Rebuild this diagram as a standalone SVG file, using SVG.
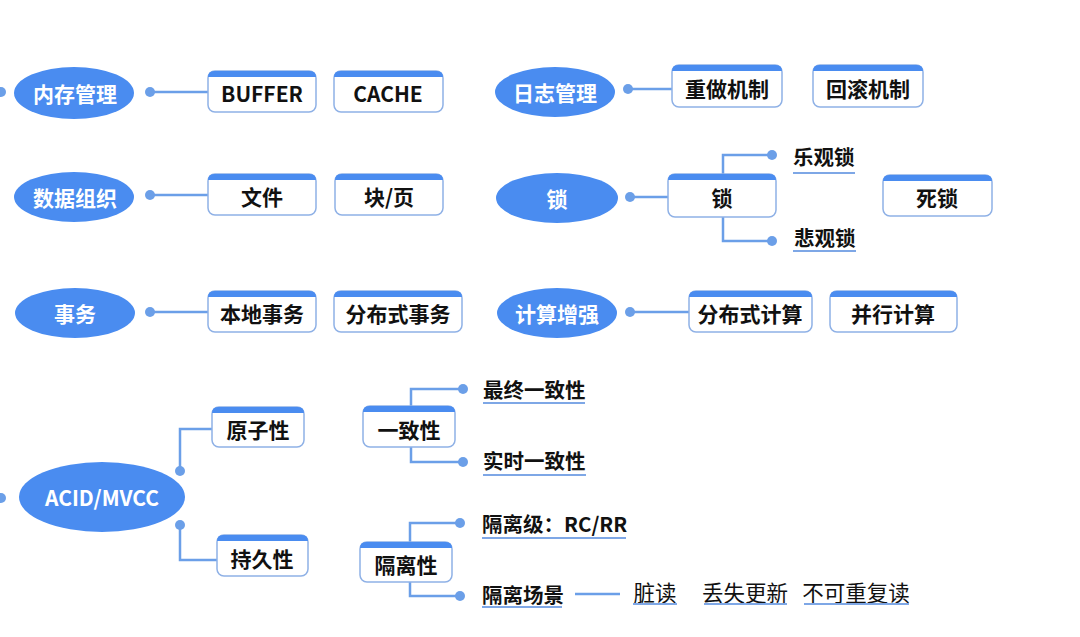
<svg xmlns="http://www.w3.org/2000/svg" width="1080" height="637" viewBox="0 0 1080 637">
<style>
.ell{fill:#4a8cf0}
.et{fill:#fff;font-family:"Noto Sans CJK SC","Noto Sans",sans-serif;font-weight:700;font-size:21px;text-anchor:middle;dominant-baseline:central}
.box{fill:#fff;stroke:#8fb1e6;stroke-width:1.5}
.band{fill:#4a8cf0}
.bt{fill:#111;font-family:"Noto Sans CJK SC","Noto Sans",sans-serif;font-weight:700;font-size:21px;text-anchor:middle;dominant-baseline:central}
.lt{fill:#111;font-family:"Noto Sans CJK SC","Noto Sans",sans-serif;font-weight:700;font-size:20.5px;dominant-baseline:central}
.rt{fill:#111;font-family:"Noto Sans CJK SC","Noto Sans",sans-serif;font-weight:400;font-size:21.5px;text-anchor:middle;dominant-baseline:central}
.cn{fill:none;stroke:#6b9fe8;stroke-width:2.5}
.dot{fill:#6b9fe8}
.ul{stroke:#7ea7e6;stroke-width:2}
</style>
<rect width="1080" height="637" fill="#fff"/>
<g id="connectors">
<path class="cn" d="M150 92H208 M150 195H208 M150 312H208 M628 89H672 M630 197H668 M630 312H689"/>
<path class="cn" d="M723 174V155H772 M723 217V241H772"/>
<path class="cn" d="M180 471V429H212 M180 525V560H217"/>
<path class="cn" d="M411 406V389H463 M411 447V462H463"/>
<path class="cn" d="M410 542V523H460 M410 582V596H460"/>
<path class="cn" d="M575 594H620"/>
<circle class="dot" cx="150" cy="92" r="5"/>
<circle class="dot" cx="150" cy="195" r="5"/>
<circle class="dot" cx="150" cy="312" r="5"/>
<circle class="dot" cx="628" cy="89" r="5"/>
<circle class="dot" cx="630" cy="197" r="5"/>
<circle class="dot" cx="630" cy="312" r="5"/>
<circle class="dot" cx="772" cy="155" r="5"/>
<circle class="dot" cx="772" cy="241" r="5"/>
<circle class="dot" cx="180" cy="471" r="5"/>
<circle class="dot" cx="180" cy="525" r="5"/>
<circle class="dot" cx="463" cy="389" r="5"/>
<circle class="dot" cx="463" cy="462" r="5"/>
<circle class="dot" cx="460" cy="523" r="5"/>
<circle class="dot" cx="460" cy="596" r="5"/>
<circle class="dot" cx="1" cy="92" r="5"/>
<circle class="dot" cx="1" cy="498" r="5"/>
</g>
<g id="n-neicun"><ellipse class="ell" cx="74" cy="93" rx="60" ry="26"/><text class="et" x="75" y="93">内存管理</text></g>
<g id="n-shuju"><ellipse class="ell" cx="74" cy="197" rx="60" ry="25"/><text class="et" x="75" y="197">数据组织</text></g>
<g id="n-shiwu"><ellipse class="ell" cx="75" cy="313" rx="60" ry="25"/><text class="et" x="75" y="313">事务</text></g>
<g id="n-rizhi"><ellipse class="ell" cx="555" cy="92" rx="60" ry="25"/><text class="et" x="555" y="92">日志管理</text></g>
<g id="n-suo"><ellipse class="ell" cx="557" cy="198" rx="61" ry="25"/><text class="et" x="557" y="198">锁</text></g>
<g id="n-jisuan"><ellipse class="ell" cx="557" cy="313" rx="60" ry="25"/><text class="et" x="557" y="313">计算增强</text></g>
<g id="n-acid"><ellipse class="ell" cx="102" cy="497" rx="83" ry="35"/><text class="et" x="102" y="497">ACID/MVCC</text></g>

<g id="b-buffer"><rect class="box" x="208" y="71" width="108" height="41" rx="7"/><path class="band" d="M208 77Q208 71 214 71H310Q316 71 316 77Z"/><text class="bt" x="262" y="93">BUFFER</text></g>
<g id="b-cache"><rect class="box" x="334" y="71" width="109" height="41" rx="7"/><path class="band" d="M334 77Q334 71 340 71H437Q443 71 443 77Z"/><text class="bt" x="388" y="93">CACHE</text></g>
<g id="b-chongzuo"><rect class="box" x="672" y="65" width="110" height="42" rx="7"/><path class="band" d="M672 71Q672 65 678 65H776Q782 65 782 71Z"/><text class="bt" x="727" y="88">重做机制</text></g>
<g id="b-huigun"><rect class="box" x="813" y="65" width="110" height="42" rx="7"/><path class="band" d="M813 71Q813 65 819 65H917Q923 65 923 71Z"/><text class="bt" x="868" y="88">回滚机制</text></g>
<g id="b-wenjian"><rect class="box" x="208" y="174" width="108" height="41" rx="7"/><path class="band" d="M208 180Q208 174 214 174H310Q316 174 316 180Z"/><text class="bt" x="262" y="196">文件</text></g>
<g id="b-kuaiye"><rect class="box" x="335" y="174" width="108" height="41" rx="7"/><path class="band" d="M335 180Q335 174 341 174H437Q443 174 443 180Z"/><text class="bt" x="389" y="196">块/页</text></g>
<g id="b-suo"><rect class="box" x="668" y="174" width="108" height="43" rx="7"/><path class="band" d="M668 180Q668 174 674 174H770Q776 174 776 180Z"/><text class="bt" x="722" y="197">锁</text></g>
<g id="b-sisuo"><rect class="box" x="883" y="175" width="109" height="41" rx="7"/><path class="band" d="M883 181Q883 175 889 175H986Q992 175 992 181Z"/><text class="bt" x="937" y="197">死锁</text></g>
<g id="b-bendi"><rect class="box" x="208" y="291" width="108" height="41" rx="7"/><path class="band" d="M208 297Q208 291 214 291H310Q316 291 316 297Z"/><text class="bt" x="262" y="313">本地事务</text></g>
<g id="b-fenbushiwu"><rect class="box" x="334" y="291" width="128" height="41" rx="7"/><path class="band" d="M334 297Q334 291 340 291H456Q462 291 462 297Z"/><text class="bt" x="398" y="313">分布式事务</text></g>
<g id="b-fenbujisuan"><rect class="box" x="689" y="291" width="123" height="41" rx="7"/><path class="band" d="M689 297Q689 291 695 291H806Q812 291 812 297Z"/><text class="bt" x="750" y="313">分布式计算</text></g>
<g id="b-bingxing"><rect class="box" x="830" y="291" width="127" height="41" rx="7"/><path class="band" d="M830 297Q830 291 836 291H951Q957 291 957 297Z"/><text class="bt" x="893" y="313">并行计算</text></g>
<g id="b-yuanzi"><rect class="box" x="212" y="407" width="92" height="40" rx="7"/><path class="band" d="M212 413Q212 407 218 407H298Q304 407 304 413Z"/><text class="bt" x="258" y="429">原子性</text></g>
<g id="b-chijiu"><rect class="box" x="217" y="535" width="91" height="41" rx="7"/><path class="band" d="M217 541Q217 535 223 535H302Q308 535 308 541Z"/><text class="bt" x="262" y="558">持久性</text></g>
<g id="b-yizhi"><rect class="box" x="363" y="406" width="92" height="41" rx="7"/><path class="band" d="M363 412Q363 406 369 406H449Q455 406 455 412Z"/><text class="bt" x="409" y="429">一致性</text></g>
<g id="b-geli"><rect class="box" x="360" y="542" width="92" height="40" rx="7"/><path class="band" d="M360 548Q360 542 366 542H446Q452 542 452 548Z"/><text class="bt" x="406" y="564">隔离性</text></g>

<g id="l-leguan"><text class="lt" x="793" y="156">乐观锁</text><line class="ul" x1="793" y1="173" x2="855" y2="173"/></g>
<g id="l-beiguan"><text class="lt" x="794" y="237">悲观锁</text><line class="ul" x1="793" y1="251" x2="856" y2="251"/></g>
<g id="l-zuizhong"><text class="lt" x="483" y="389">最终一致性</text><line class="ul" x1="483" y1="403" x2="585" y2="403"/></g>
<g id="l-shishi"><text class="lt" x="483" y="460">实时一致性</text><line class="ul" x1="483" y1="475" x2="586" y2="475"/></g>
<g id="l-gelij"><text class="lt" x="482" y="523">隔离级：RC/RR</text><line class="ul" x1="482" y1="538" x2="626" y2="538"/></g>
<g id="l-changjing"><text class="lt" x="482" y="594">隔离场景</text><line class="ul" x1="482" y1="607" x2="562" y2="607"/></g>
<g id="l-zangdu"><text class="rt" x="655" y="591">脏读</text><line class="ul" x1="633" y1="604" x2="677" y2="604"/></g>
<g id="l-diushi"><text class="rt" x="745" y="591">丢失更新</text><line class="ul" x1="704" y1="604" x2="787" y2="604"/></g>
<g id="l-bukechong"><text class="rt" x="856" y="591">不可重复读</text><line class="ul" x1="804" y1="604" x2="909" y2="604"/></g>
</svg>
